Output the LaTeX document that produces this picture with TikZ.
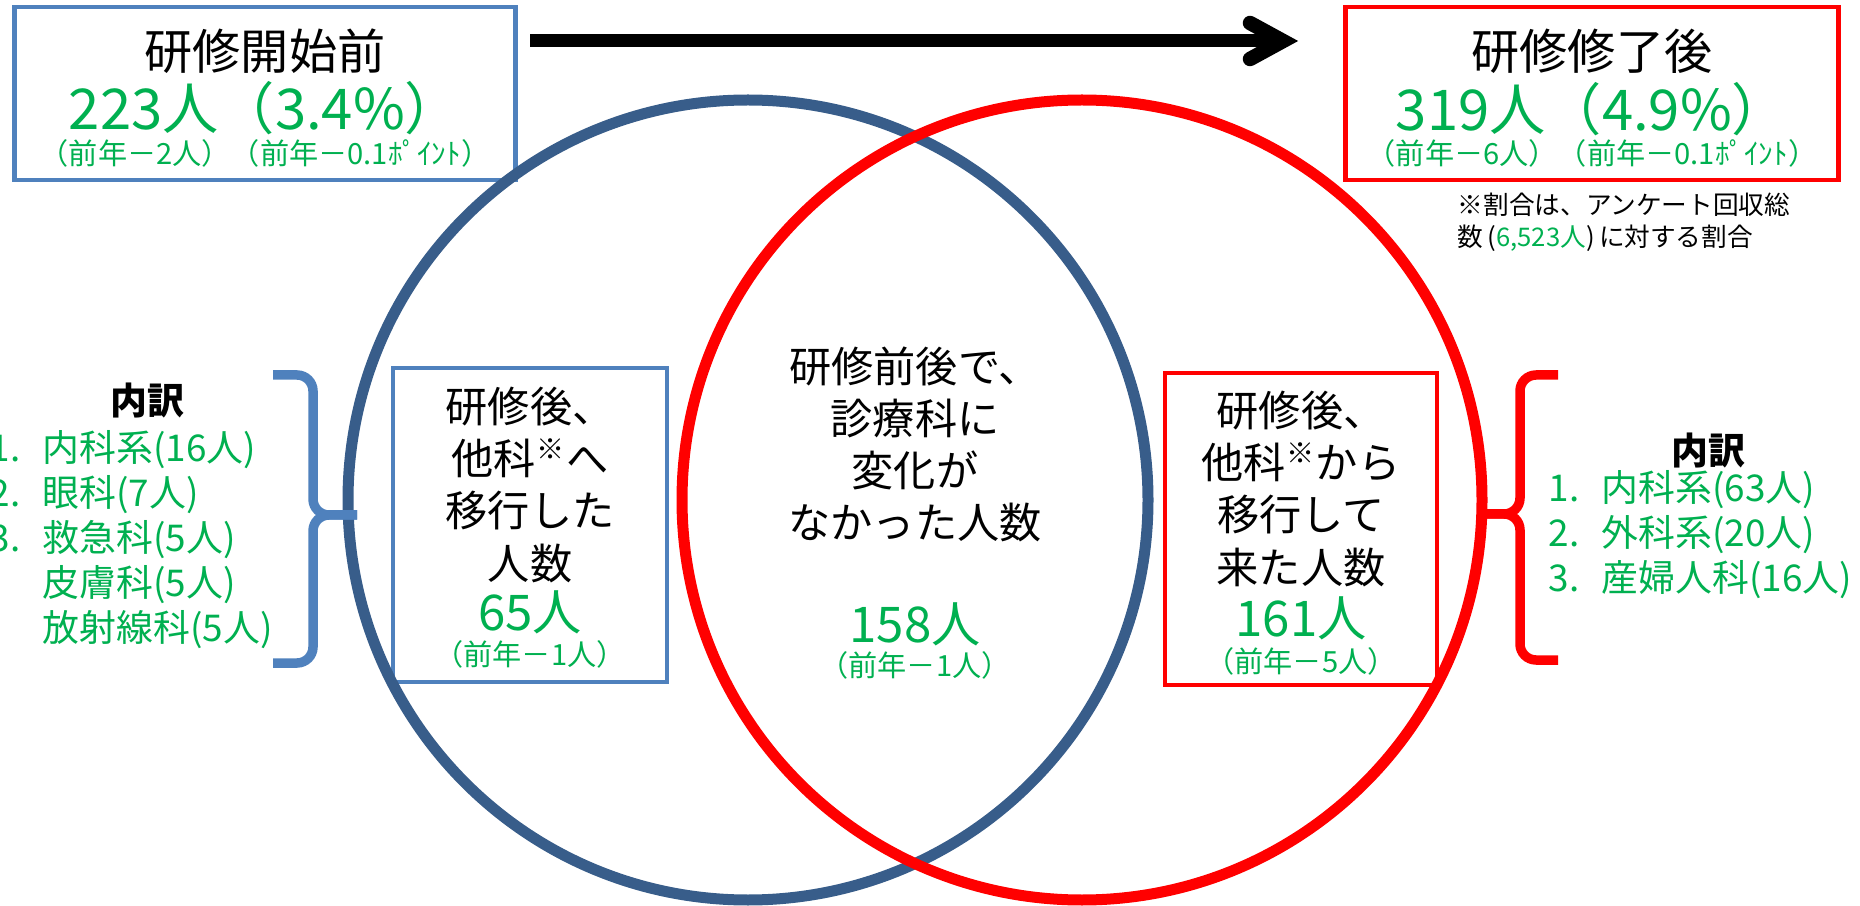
\documentclass[tikz,border=0pt]{standalone}
\usepackage{fontspec}
\setmainfont{Noto Sans CJK JP}
\definecolor{bxblue}{RGB}{79,129,189}
\definecolor{cblue}{RGB}{56,93,138}
\definecolor{cred}{RGB}{255,0,0}
\definecolor{numgreen}{RGB}{0,176,80}
\newcommand{\kome}{\textsuperscript{※}}
\newcommand{\itm}[2]{\makebox[5.3mm][l]{#1}#2}
\begin{document}
\begin{tikzpicture}[x=0.1mm,y=-0.1mm,line join=miter,
    frame/.style={draw=#1,line width=.45mm,fill=white,inner sep=0pt},
    ttl/.style={inner sep=0pt,font=\fontsize{13.7pt}{16pt}\selectfont},
    big/.style={inner sep=0pt,text=numgreen,font=\fontsize{16pt}{19pt}\selectfont},
    prev/.style={inner sep=0pt,text=numgreen,font=\fontsize{8.3pt}{10pt}\selectfont},
    body/.style={inner sep=0pt,align=center,font=\fontsize{12pt}{14.8pt}\selectfont},
    cnt/.style={inner sep=0pt,text=numgreen,font=\fontsize{14pt}{16pt}\selectfont},
    lst/.style={inner sep=0pt,anchor=west,text=numgreen,font=\fontsize{10.5pt}{12pt}\selectfont},
    head/.style={inner sep=0pt,font=\fontsize{10.5pt}{12pt}\selectfont\bfseries},
    ring/.style={draw=#1,line width=1.1mm},
    brace/.style={draw=#1,line width=.95mm,rounded corners=1.6mm}]
    \def\cy{500} \def\rr{400}
    \useasboundingbox (0,0) rectangle (1860,906);
    %===========================================
    % before / after
    \node[frame=bxblue,minimum width=50.1mm,minimum height=17.3mm] (pre) at (265,93.5) {};
    \node[frame=cred,minimum width=49.3mm,minimum height=17.3mm] (post) at (1592,93.5) {};
    \node[ttl] (preT) at (265,51) {研修開始前};
    \node[big] (preN) at (265,108) {223人（3.4\%）};
    \node[prev] (preP) at (265,153) {（前年－2人）（前年－0.1ﾎﾟｲﾝﾄ）};
    \node[ttl] (postT) at (1592,51) {研修修了後};
    \node[big] (postN) at (1592,109) {319人（4.9\%）};
    \node[prev] (postP) at (1592,153) {（前年－6人）（前年－0.1ﾎﾟｲﾝﾄ）};
    \node[inner sep=0pt,anchor=west,align=left,font=\fontsize{7.3pt}{9.1pt}\selectfont] (note) at (1457,222)
        {※割合は、アンケート回収総\\数\,(\textcolor{numgreen}{6,523人})\,に対する割合};
    %===========================================
    % arrow
    \coordinate (arrS) at (530,41);
    \coordinate (arrE) at (1283,41);
    \draw[line width=1.3mm] (arrS) -- (arrE);
    \draw[line width=1.45mm,line cap=round] (arrE) ++(-33,-18) -- (arrE) -- ++(-33,18);
    %===========================================
    % inner boxes
    \node[frame=bxblue,line width=.4mm,minimum width=27.4mm,minimum height=31.4mm] (outL) at (530,525) {};
    \node[frame=cred,line width=.4mm,minimum width=27.2mm,minimum height=31.2mm] (inR) at (1301,529) {};
    %===========================================
    % circles
    \draw[ring=cblue] (748,\cy) circle (\rr);
    \draw[ring=cred] (1082,\cy) circle (\rr);
    %===========================================
    % texts in circles
    \node[body] (outT) at (530,485) {研修後、\\他科\kome へ\\移行した\\人数};
    \node[cnt] (outN) at (530,612) {65人};
    \node[prev] (outP) at (530,654) {（前年－1人）};
    \node[body] (sameT) at (915,444.5) {研修前後で、\\診療科に\\変化が\\なかった人数};
    \node[cnt] (sameN) at (915,624) {158人};
    \node[prev] (sameP) at (915,665) {（前年－1人）};
    \node[body] (inT) at (1301,489) {研修後、\\他科\kome から\\移行して\\来た人数};
    \node[cnt] (inN) at (1301,618) {161人};
    \node[prev] (inP) at (1301,661) {（前年－5人）};
    %===========================================
    % breakdowns
    \draw[brace=bxblue] (273,375) -- (313,375) -- (313,515) -- (357,515);
    \draw[brace=bxblue] (357,515) -- (313,515) -- (313,663) -- (273,663);
    \draw[brace=cred] (1558,375) -- (1520,375) -- (1520,514) -- (1485,514);
    \draw[brace=cred] (1485,514) -- (1520,514) -- (1520,660) -- (1558,660);
    \node[head] (outH) at (147,401) {内訳};
    \node[lst] (out1) at (-11,450) {\itm{1.}{内科系(16人)}};
    \node[lst] (out2) at (-11,495) {\itm{2.}{眼科(7人)}};
    \node[lst] (out3) at (-11,540) {\itm{3.}{救急科(5人)}};
    \node[lst] (out4) at (-11,585) {\itm{}{皮膚科(5人)}};
    \node[lst] (out5) at (-11,630) {\itm{}{放射線科(5人)}};
    \node[head] (inH) at (1708,451) {内訳};
    \node[lst] (in1) at (1548,490) {\itm{1.}{内科系(63人)}};
    \node[lst] (in2) at (1548,535) {\itm{2.}{外科系(20人)}};
    \node[lst] (in3) at (1548,580) {\itm{3.}{産婦人科(16人)}};
\end{tikzpicture}
\end{document}
